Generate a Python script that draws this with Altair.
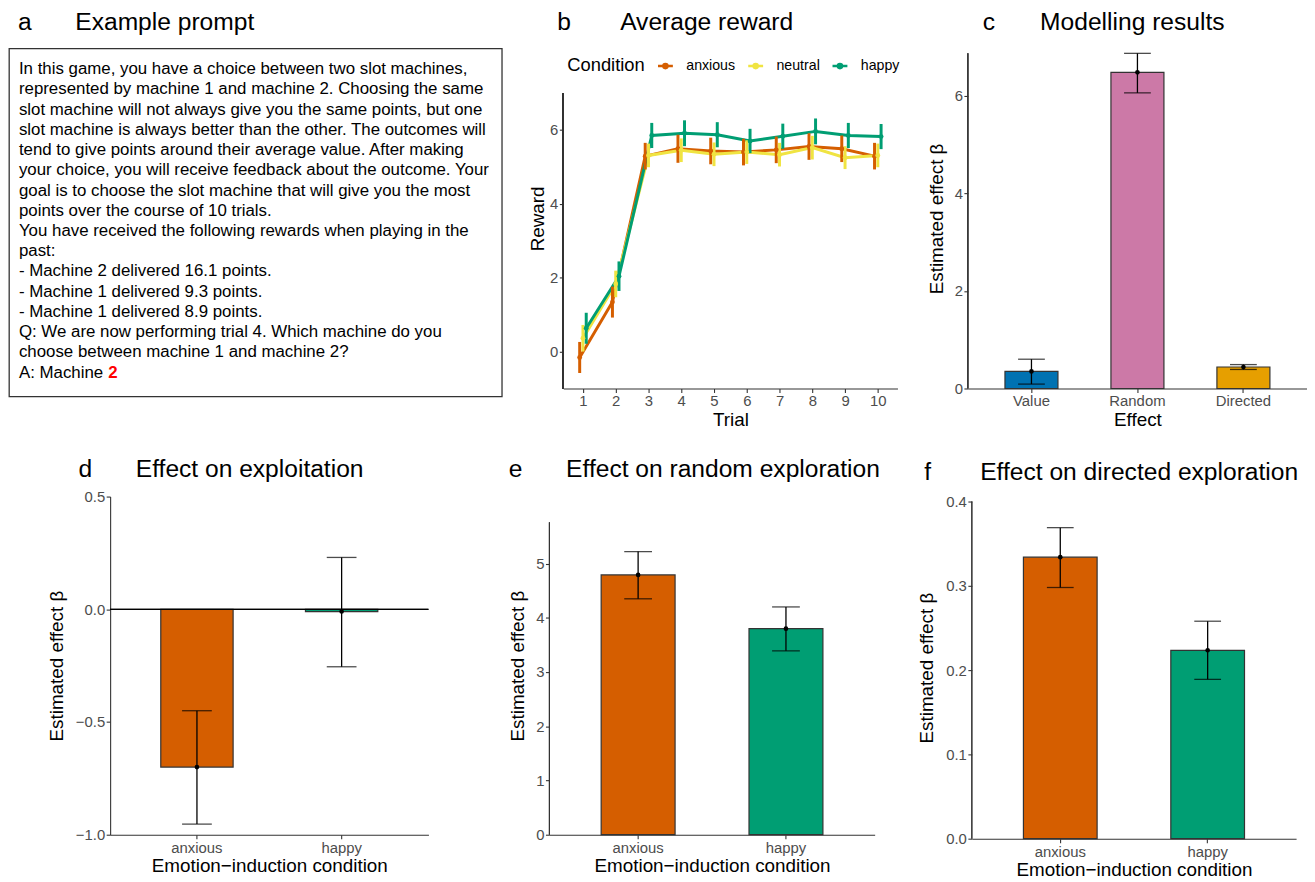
import altair as alt
import pandas as pd

FONT = "Liberation Sans"

# ---------------- data ----------------
prompt_lines = [
    "In this game, you have a choice between two slot machines,",
    "represented by machine 1 and machine 2. Choosing the same",
    "slot machine will not always give you the same points, but one",
    "slot machine is always better than the other. The outcomes will",
    "tend to give points around their average value. After making",
    "your choice, you will receive feedback about the outcome. Your",
    "goal is to choose the slot machine that will give you the most",
    "points over the course of 10 trials.",
    "You have received the following rewards when playing in the",
    "past:",
    "- Machine 2 delivered 16.1 points.",
    "- Machine 1 delivered 9.3 points.",
    "- Machine 1 delivered 8.9 points.",
    "Q: We are now performing trial 4. Which machine do you",
    "choose between machine 1 and machine 2?",
    "A: Machine",
]
answer = "2"

trials = list(range(1, 11))
conditions = ["anxious", "neutral", "happy"]
cond_colors = ["#D55E00", "#F0E442", "#009E73"]
reward_anxious = [-0.16, 1.34, 5.29, 5.49, 5.43, 5.40, 5.46, 5.55, 5.49, 5.29]
reward_neutral = [0.36, 1.83, 5.31, 5.45, 5.34, 5.40, 5.33, 5.52, 5.25, 5.31]
reward_happy = [0.63, 2.04, 5.85, 5.91, 5.87, 5.70, 5.83, 5.96, 5.85, 5.82]
err_anxious = [0.42, 0.42, 0.36, 0.38, 0.36, 0.36, 0.36, 0.36, 0.36, 0.36]
err_neutral = [0.36, 0.36, 0.32, 0.32, 0.32, 0.32, 0.32, 0.32, 0.31, 0.32]
err_happy = [0.42, 0.40, 0.34, 0.35, 0.34, 0.33, 0.34, 0.35, 0.34, 0.34]

effects = ["Value", "Random", "Directed"]
effect_colors = ["#0072B2", "#CC79A7", "#E69F00"]
effect_est = [0.35, 6.48, 0.44]
effect_lo = [0.09, 6.06, 0.39]
effect_hi = [0.60, 6.87, 0.49]

emotions = ["anxious", "happy"]
emotion_colors = ["#D55E00", "#009E73"]
exploit_est = [-0.70, -0.01]
exploit_lo = [-0.953, -0.255]
exploit_hi = [-0.45, 0.23]
random_est = [4.79, 3.80]
random_lo = [4.35, 3.39]
random_hi = [5.22, 4.20]
directed_est = [0.334, 0.2235]
directed_lo = [0.298, 0.189]
directed_hi = [0.369, 0.258]

EM, EN, NB = "\u2003", "\u2002", "\u00a0"
AXIS_COLOR = "#333333"


def ttl(text, dx, offset):
    return alt.TitleParams(text=text, anchor="start", frame="group", dx=dx,
                           offset=offset, fontSize=24.8, font=FONT,
                           fontWeight="normal", color="black",
                           baseline="alphabetic")


# ---------------- panel a ----------------
df_a = pd.DataFrame({"i": list(range(len(prompt_lines))), "line": prompt_lines})
df_ans = pd.DataFrame({"i": [len(prompt_lines) - 1], "t": [answer]})
ya = alt.Y("i:Q", scale=alt.Scale(domain=[0, 15], range=[21, 327]), axis=None)
txt_a = alt.Chart(df_a).mark_text(align="left", baseline="middle", fontSize=17,
                                   font=FONT, color="black").encode(
    x=alt.value(10), y=ya, text="line:N")
ans_a = alt.Chart(df_ans).mark_text(align="left", baseline="middle", fontSize=17,
                                     font=FONT, fontWeight="bold", color="#FF0000",
                                     dx=90).encode(
    x=alt.value(10), y=ya, text="t:N")
panel_a = alt.layer(txt_a, ans_a).properties(
    width=497, height=351,
    title=ttl("a" + EM + EN + NB + "Example prompt", 9, -6.5),
    view=alt.ViewBackground(stroke=AXIS_COLOR, strokeWidth=1.3),
)

# ---------------- panel b ----------------
rows = []
for cond, rv, ev in [("anxious", reward_anxious, err_anxious),
                     ("neutral", reward_neutral, err_neutral),
                     ("happy", reward_happy, err_happy)]:
    for t, r, e in zip(trials, rv, ev):
        rows.append({"trial": t, "condition": cond, "reward": r, "err": e})
df_b = pd.DataFrame(rows)

base_b = alt.Chart(df_b).transform_calculate(
    xpos="datum.trial + (datum.condition == 'anxious' ? -0.1 : (datum.condition == 'happy' ? 0.1 : 0))",
    lo="datum.reward - datum.err",
    hi="datum.reward + datum.err",
)
sc_xb = alt.Scale(domain=[0.4, 10.6], nice=False, zero=False)
ax_xb = alt.Axis(values=trials, format="d", title="Trial")
# view is taller than the drawn axis; the axis line is drawn from -1 to 7
sc_yb = alt.Scale(domain=[-1, 8.208], nice=False, zero=False)
ax_yb = alt.Axis(values=[0, 2, 4, 6], title="Reward", titlePadding=2, domain=False)
leg_b = alt.Legend(
    title="Condition", orient="none", legendX=4, legendY=8.5, direction="horizontal",
    titleOrient="left", titleFontSize=18.5, titleFontWeight="normal", titleColor="black",
    titleFont=FONT, titlePadding=11, labelFontSize=14.3, labelColor="black",
    labelFont=FONT,
    symbolType="M-1,0H1M-0.28,0A0.28,0.28,0,1,1,0.28,0A0.28,0.28,0,1,1,-0.28,0",
    symbolSize=225, symbolStrokeWidth=2.5, labelOffset=12, columnPadding=7,
)
col_b = alt.Color("condition:N", scale=alt.Scale(domain=conditions, range=cond_colors),
                  legend=leg_b)
xb = alt.X("xpos:Q", scale=sc_xb, axis=ax_xb)
axis_b = alt.Chart(df_b).mark_rule(color=AXIS_COLOR, strokeWidth=1.1).encode(
    x=alt.value(0), y=alt.datum(-1), y2=alt.datum(7))
lines_b = base_b.mark_line(strokeWidth=3).encode(
    x=xb, y=alt.Y("reward:Q", scale=sc_yb, axis=ax_yb), color=col_b)
rules_b = base_b.mark_rule(strokeWidth=3).encode(
    x=xb, y=alt.Y("lo:Q", scale=sc_yb, axis=ax_yb), y2="hi:Q", color=col_b)
pts_b = base_b.mark_circle(size=24, opacity=1).encode(
    x=xb, y=alt.Y("reward:Q", scale=sc_yb, axis=ax_yb), color=col_b)
panel_b = alt.layer(lines_b, rules_b, pts_b, axis_b).properties(
    width=337, height=343,
    title=ttl("b" + EM + EM + "Average reward", -6, -6),
)


# ---------------- bar panels ----------------
def bar_panel(cats, colors, est, lo, hi, ydom, yvals, yfmt, xtitle, w, h, cap,
              title, ytp, zero_line=False, axis_span=None):
    df = pd.DataFrame({"cat": cats, "est": est, "lo": lo, "hi": hi})
    sc_y = alt.Scale(domain=ydom, nice=False, zero=False)
    ax_y = alt.Axis(values=yvals, format=yfmt, title="Estimated effect β",
                    titlePadding=ytp, domain=axis_span is None)
    x = alt.X("cat:N", sort=cats,
              scale=alt.Scale(domain=cats, paddingInner=0.5, paddingOuter=0.35),
              axis=alt.Axis(title=xtitle, labelAngle=0))
    base = alt.Chart(df)
    bars = base.mark_bar(stroke="#333333", strokeWidth=1.2).encode(
        x=x, y=alt.Y("est:Q", scale=sc_y, axis=ax_y), y2=alt.datum(0),
        color=alt.Color("cat:N", scale=alt.Scale(domain=cats, range=colors),
                        legend=None))
    layers = [bars]
    if zero_line:
        layers.append(base.mark_rule(color="black", strokeWidth=1.2).encode(
            y=alt.datum(0)))
    layers.append(base.mark_rule(color="black", strokeWidth=1.3).encode(
        x=x, y=alt.Y("lo:Q", scale=sc_y, axis=ax_y), y2="hi:Q"))
    layers.append(base.mark_tick(color="black", size=cap, thickness=1.3).encode(
        x=x, y=alt.Y("lo:Q", scale=sc_y, axis=ax_y)))
    layers.append(base.mark_tick(color="black", size=cap, thickness=1.3).encode(
        x=x, y=alt.Y("hi:Q", scale=sc_y, axis=ax_y)))
    layers.append(base.mark_circle(color="black", size=22, opacity=1).encode(
        x=x, y=alt.Y("est:Q", scale=sc_y, axis=ax_y)))
    if axis_span is not None:
        layers.append(base.mark_rule(color=AXIS_COLOR, strokeWidth=1.1).encode(
            x=alt.value(0), y=alt.datum(axis_span[0]), y2=alt.datum(axis_span[1])))
    return alt.layer(*layers).properties(width=w, height=h, title=title)


panel_c = bar_panel(effects, effect_colors, effect_est, effect_lo, effect_hi,
                    [0, 6.972], [0, 2, 4, 6], "d", "Effect", 342, 343, 27,
                    ttl("c" + EM + NB * 3 + "Modelling results", 15, -6), 7.4,
                    axis_span=(0, 6.87))
panel_d = bar_panel(emotions, emotion_colors, exploit_est, exploit_lo, exploit_hi,
                    [-1, 0.5], [-1, -0.5, 0, 0.5], ".1f",
                    "Emotion\u2212induction condition", 321, 341, 30,
                    ttl("d" + EM + EN + NB + "Effect on exploitation", -32, -12.2),
                    8.8, zero_line=True)
panel_e = bar_panel(emotions, emotion_colors, random_est, random_lo, random_hi,
                    [0, 6.235], [0, 1, 2, 3, 4, 5], "d",
                    "Emotion\u2212induction condition", 328, 341, 28,
                    ttl("e" + EM + EN + NB + "Effect on random exploration", -41, -4.7),
                    8.4, axis_span=(0, 5.76))
panel_f = bar_panel(emotions, emotion_colors, directed_est, directed_lo, directed_hi,
                    [0, 0.40588], [0, 0.1, 0.2, 0.3, 0.4], ".1f",
                    "Emotion\u2212induction condition", 327, 345, 27,
                    ttl("f" + EM + EM + "Effect on directed exploration", -48, -10.5),
                    9.2, axis_span=(0, 0.4))

spacer = alt.Chart(pd.DataFrame({"v": [0]})).mark_point(size=0, opacity=0).encode(
    x=alt.value(0), y=alt.value(0)).properties(width=1, height=1)

row1 = alt.hconcat(
    alt.hconcat(panel_a, panel_b, spacing=26).resolve_scale(color="independent"),
    panel_c, spacing=28).resolve_scale(color="independent")
row2 = alt.hconcat(
    spacer,
    alt.hconcat(
        alt.hconcat(panel_d, panel_e, spacing=79).resolve_scale(color="independent"),
        panel_f, spacing=37).resolve_scale(color="independent"),
    spacing=38,
).resolve_scale(color="independent")

chart = alt.vconcat(row1, row2, spacing=26).resolve_scale(color="independent").properties(
    padding={"left": 0, "top": -2, "right": 0, "bottom": 0}
).configure(font=FONT).configure_view(stroke=None).configure_axis(
    domainColor=AXIS_COLOR, domainWidth=1.1, tickColor=AXIS_COLOR, tickWidth=1.1,
    tickSize=4, labelColor="#4D4D4D", labelFontSize=15, labelFont=FONT,
    titleFont=FONT, titleFontSize=19, titleFontWeight="normal", titleColor="black",
    labelPadding=1.5, grid=False,
).configure_axisX(titlePadding=2)

chart.save("out.html", embed_options={"renderer": "svg", "actions": False})
